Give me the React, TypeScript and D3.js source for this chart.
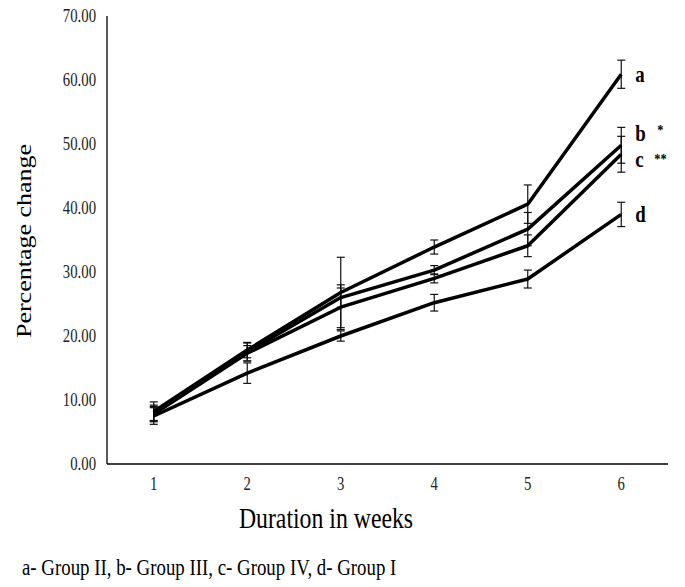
import React from "react";
import * as d3 from "d3";

const weeks = ["1", "2", "3", "4", "5", "6"];
const yTicks = [0, 10, 20, 30, 40, 50, 60, 70];
const seriesNames = ["a", "b", "c", "d"];
const seriesMarks = ["", "*", "**", ""];
const valuesA = [8.2, 17.8, 26.8, 33.9, 40.6, 60.9];
const valuesB = [8.0, 17.5, 26.0, 30.3, 36.7, 49.8];
const valuesC = [7.8, 17.3, 24.5, 29.0, 34.1, 48.4];
const valuesD = [7.5, 14.2, 20.0, 25.2, 28.9, 39.0];
const errA = [1.5, 1.2, 5.5, 1.1, 3.0, 2.2];
const errB = [1.2, 1.4, 1.5, 0.7, 2.6, 2.8];
const errC = [1.2, 1.2, 3.5, 0.7, 1.7, 2.8];
const errD = [1.3, 1.6, 0.8, 1.3, 1.4, 1.9];
const footer = "a- Group II, b- Group III, c- Group IV, d- Group I";

const series = [
  { name: seriesNames[0], mark: seriesMarks[0], values: valuesA, err: errA },
  { name: seriesNames[1], mark: seriesMarks[1], values: valuesB, err: errB },
  { name: seriesNames[2], mark: seriesMarks[2], values: valuesC, err: errC },
  { name: seriesNames[3], mark: seriesMarks[3], values: valuesD, err: errD },
];

const SX = 0.82;

function CText(props: {
  x: number;
  y: number;
  size: number;
  anchor?: "start" | "middle" | "end";
  weight?: string;
  fill?: string;
  dy?: string;
  children: React.ReactNode;
}) {
  const { x, y, size, anchor = "start", weight = "normal", fill = "#000", dy, children } = props;
  return (
    <text
      transform={`translate(${x},${y}) scale(${SX},1)`}
      textAnchor={anchor}
      fontSize={size}
      fontWeight={weight}
      fill={fill}
      dy={dy}
    >
      {children}
    </text>
  );
}

export default function App() {
  const W = 685, H = 587;
  const left = 107, right = 668, top = 16, bottom = 464;
  const x = d3.scalePoint<string>().domain(weeks).range([left, right]).padding(0.5);
  const y = d3.scaleLinear().domain([0, 70]).range([bottom, top]);
  const line = d3.line<number>().x((_, i) => x(weeks[i]) as number).y((v) => y(v));
  const font = "'Liberation Serif', 'Times New Roman', serif";
  const cap = 4;
  const labelDy = [0, -12, 5, 0];
  const markDx = [0, 22, 19, 0];
  const markDy = [0, -3, 0, 0];
  const lastX = x(weeks[5]) as number;

  return (
    <svg width={W} height={H} style={{ position: "absolute", left: 0, top: 0, background: "#fff" }} fontFamily={font}>
      <rect x={0} y={0} width={W} height={H} fill="#fff" />
      <line x1={left} y1={top} x2={left} y2={bottom} stroke="#000" strokeWidth={1.3} />
      <line x1={left} y1={bottom} x2={right} y2={bottom} stroke="#000" strokeWidth={1.3} />
      {yTicks.map((t) => (
        <CText key={t} x={96} y={y(t)} dy="0.35em" anchor="end" size={18} fill="#222">
          {t.toFixed(2)}
        </CText>
      ))}
      {weeks.map((w) => (
        <CText key={w} x={x(w) as number} y={490} anchor="middle" size={18} fill="#222">
          {w}
        </CText>
      ))}
      {series.map((s) =>
        s.values.map((v, i) => {
          const cx = x(weeks[i]) as number;
          const y1 = y(v + s.err[i]);
          const y2 = y(v - s.err[i]);
          return (
            <g key={s.name + i} stroke="#111" strokeWidth={1.2}>
              <line x1={cx} x2={cx} y1={y1} y2={y2} />
              <line x1={cx - cap} x2={cx + cap} y1={y1} y2={y1} />
              <line x1={cx - cap} x2={cx + cap} y1={y2} y2={y2} />
            </g>
          );
        })
      )}
      {series.map((s) => (
        <path key={s.name} d={line(s.values) as string} fill="none" stroke="#000" strokeWidth={3.5} strokeLinejoin="round" />
      ))}
      {series.map((s, k) => {
        const ly = y(s.values[5]) + labelDy[k];
        return (
          <g key={"l" + s.name}>
            <CText x={lastX + 14} y={ly} dy="0.32em" size={23} weight="bold">
              {s.name}
            </CText>
            {s.mark && (
              <CText x={lastX + 14 + markDx[k]} y={ly + markDy[k]} dy="0.32em" size={15} weight="bold">
                {s.mark}
              </CText>
            )}
          </g>
        );
      })}
      <text
        transform={`translate(31,${(top + bottom) / 2 + 1}) rotate(-90) scale(1,${SX})`}
        textAnchor="middle"
        fontSize={26}
        fill="#000"
      >
        Percentage change
      </text>
      <CText x={326} y={528} anchor="middle" size={29}>
        Duration in weeks
      </CText>
      <CText x={22} y={575} size={23}>
        {footer}
      </CText>
    </svg>
  );
}
